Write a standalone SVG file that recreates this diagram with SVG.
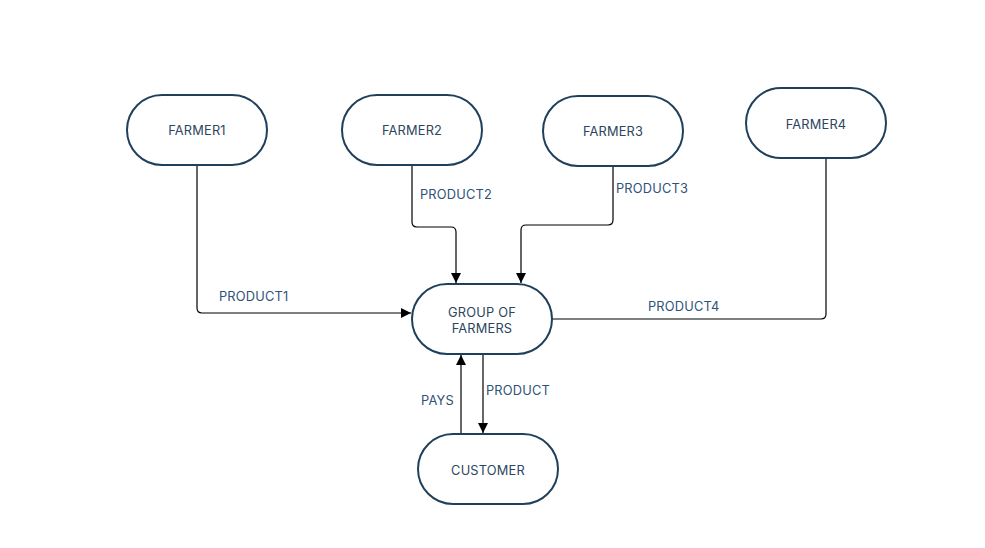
<svg xmlns="http://www.w3.org/2000/svg" width="985" height="548" viewBox="0 0 985 548">
<style>
.node rect{fill:#fff;stroke:#1f3f5b;stroke-width:2}
.node text{font-family:Inter,"Liberation Sans",sans-serif;font-size:12.8px;letter-spacing:0.2px;fill:#2c4660;text-anchor:middle}
.lbl{font-family:Inter,"Liberation Sans",sans-serif;font-size:12.8px;letter-spacing:0.2px;fill:#2f5278}
.conn path{fill:none;stroke:#000;stroke-width:1.2}
</style>
<defs>
<marker id="ah" viewBox="0 0 10 10" refX="10" refY="5" markerWidth="10" markerHeight="10" markerUnits="userSpaceOnUse" orient="auto">
<path d="M0,0 L10,5 L0,10 Z" fill="#000"/>
</marker>
</defs>
<rect width="985" height="548" fill="#fff"/>
<g id="connectors" class="conn">
<path d="M197,165 V308 Q197,313 202,313 H411" marker-end="url(#ah)"/>
<path d="M412,165 V222 Q412,227 417,227 H451 Q456,227 456,232 V283" marker-end="url(#ah)"/>
<path d="M613,166 V220 Q613,225 608,225 H526 Q521,225 521,230 V283" marker-end="url(#ah)"/>
<path d="M826,158 V314 Q826,319 821,319 H552"/>
<path d="M461,434 V355" marker-end="url(#ah)"/>
<path d="M483,354 V433" marker-end="url(#ah)"/>
</g>
<g id="farmer1" class="node"><rect x="127" y="95" width="140" height="70" rx="35"/><text x="197" y="135">FARMER1</text></g>
<g id="farmer2" class="node"><rect x="342" y="95" width="140" height="70" rx="35"/><text x="412" y="135">FARMER2</text></g>
<g id="farmer3" class="node"><rect x="543" y="96" width="140" height="70" rx="35"/><text x="613" y="136">FARMER3</text></g>
<g id="farmer4" class="node"><rect x="746" y="88" width="140" height="70" rx="35"/><text x="816" y="129">FARMER4</text></g>
<g id="group" class="node"><rect x="412" y="284" width="140" height="70" rx="35"/><text x="482" y="317">GROUP OF</text><text x="482" y="333">FARMERS</text></g>
<g id="customer" class="node"><rect x="418" y="434" width="140" height="70" rx="35"/><text x="488" y="475">CUSTOMER</text></g>
<g id="labels">
<text class="lbl" x="219" y="301">PRODUCT1</text>
<text class="lbl" x="420" y="199">PRODUCT2</text>
<text class="lbl" x="616" y="193">PRODUCT3</text>
<text class="lbl" x="648" y="311">PRODUCT4</text>
<text class="lbl" x="421" y="405">PAYS</text>
<text class="lbl" x="486" y="395">PRODUCT</text>
</g>
</svg>
